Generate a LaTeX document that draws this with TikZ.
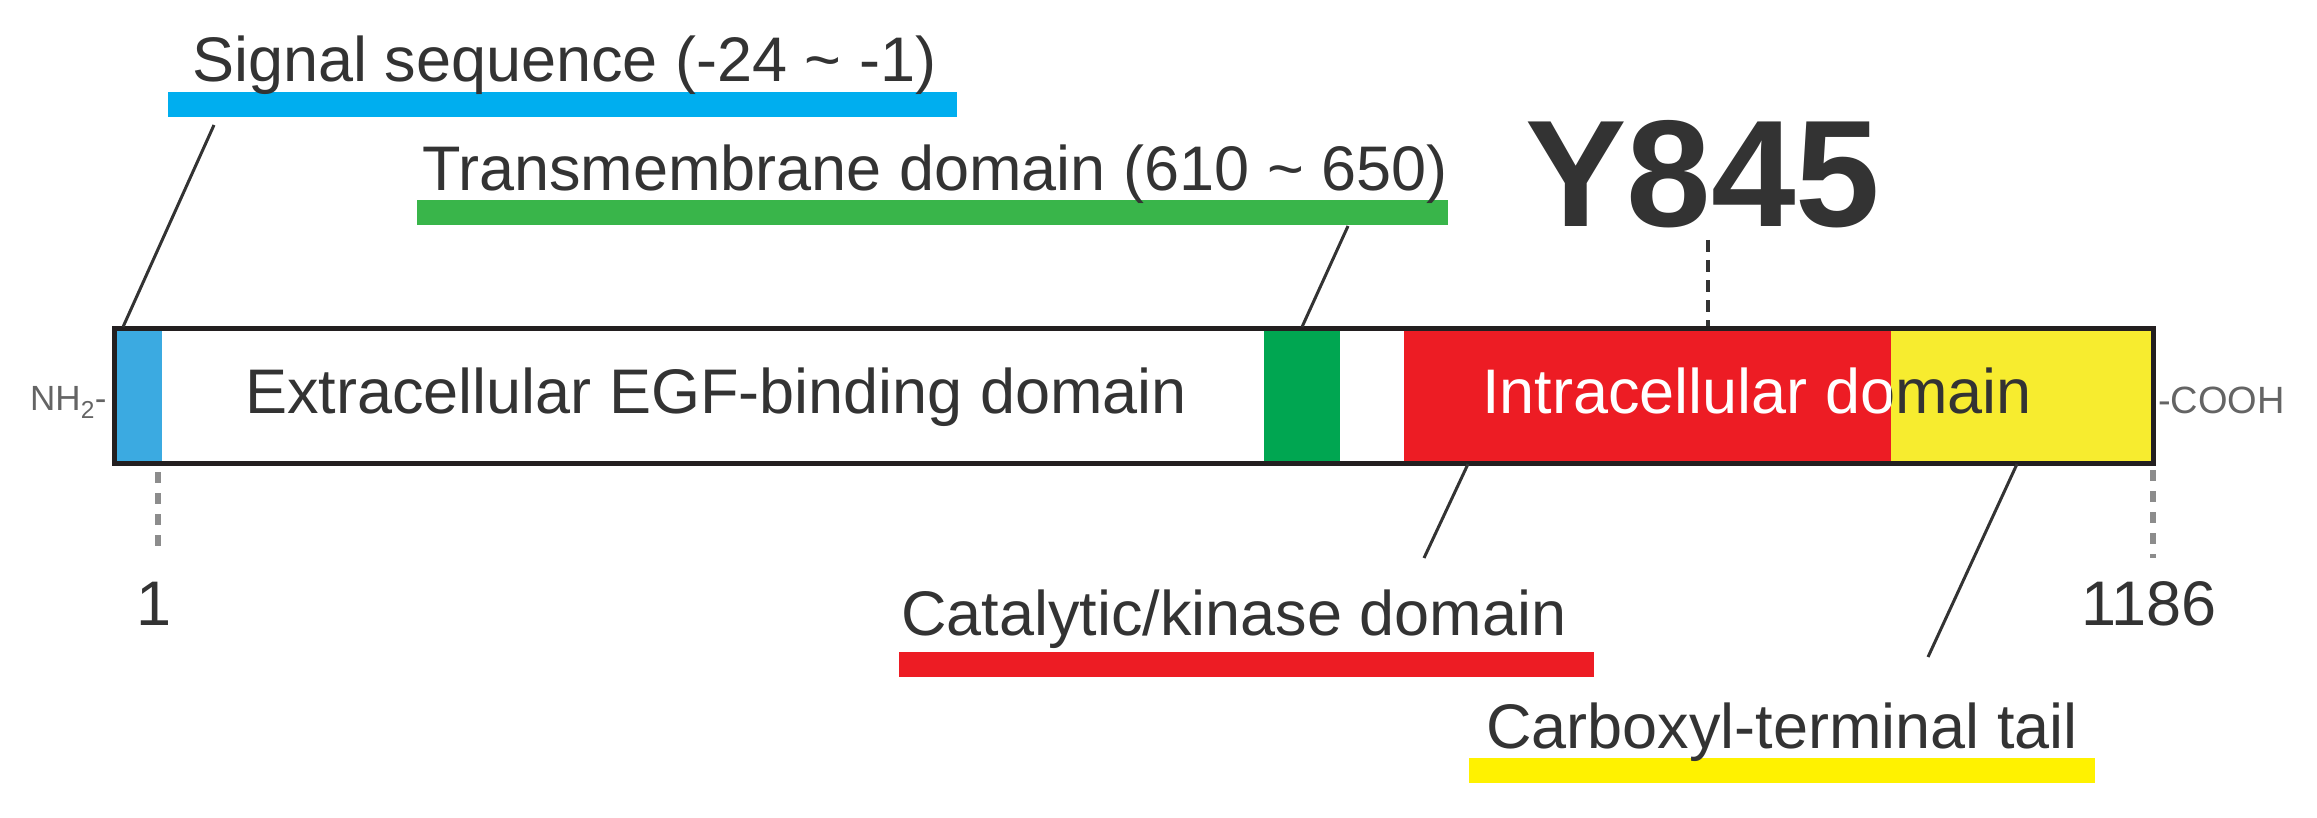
\documentclass[tikz,border=0pt]{standalone}
\usepackage{fontspec}
\setmainfont{Liberation Sans}
\definecolor{txt}{RGB}{51,51,51}
\definecolor{nhgray}{RGB}{100,100,100}
\definecolor{dotgray}{RGB}{140,140,140}
\definecolor{boxline}{RGB}{35,31,32}
\definecolor{sigblue}{RGB}{0,174,239}
\definecolor{segblue}{RGB}{59,170,225}
\definecolor{tmgreen}{RGB}{57,181,74}
\definecolor{seggreen}{RGB}{0,166,81}
\definecolor{kred}{RGB}{237,28,36}
\definecolor{tyellow}{RGB}{255,242,0}
\definecolor{segyellow}{RGB}{247,236,47}
\begin{document}
\begin{tikzpicture}[x=1pt,y=-1pt,
  lbl/.style={anchor=base west, inner sep=0pt, text=txt, font=\fontsize{63}{70}\selectfont},
  bar/.style={anchor=north west, inner sep=0pt, outer sep=0pt, minimum height=25pt, draw=none},
  seg/.style={anchor=north west, inner sep=0pt, outer sep=0pt, minimum height=135pt, draw=none},
  leader/.style={draw=txt, line width=3pt},
  ydash/.style={draw=txt, line width=4pt, dash pattern=on 12pt off 8pt},
  posdash/.style={draw=dotgray, line width=6pt, dash pattern=on 11pt off 10pt}
]
\useasboundingbox (0,0) rectangle (2317,818);

% protein bar segments
\node[seg, fill=white, minimum width=2039pt] (protein) at (114,328) {};
\node[seg, fill=segblue, minimum width=48pt] (sigseg) at (114,328) {};
\node[seg, fill=seggreen, minimum width=76pt] (tmseg) at (1264,328) {};
\node[seg, fill=kred, minimum width=487pt] (kinseg) at (1404,328) {};
\node[seg, fill=segyellow, minimum width=262pt] (tailseg) at (1891,328) {};

% text inside bar
\node[lbl] (extra) at (245,413) {Extracellular EGF-binding domain};
\begin{scope}
  \clip (1404,328) rectangle (1891,463);
  \node[lbl, text=white] (intraA) at (1482,413) {Intracellular domain};
\end{scope}
\begin{scope}
  \clip (1891,328) rectangle (2153,463);
  \node[lbl] (intraB) at (1482,413) {Intracellular domain};
\end{scope}

% border
\draw[boxline, line width=5pt] (protein.north west) rectangle (protein.south east);

% termini
\node[anchor=base west, inner sep=0pt, text=nhgray, font=\fontsize{35}{40}\selectfont] (nh) at (30,410) {NH\textsubscript{2}-};
\node[anchor=base west, inner sep=0pt, text=nhgray, font=\fontsize{38}{42}\selectfont] (cooh) at (2158,413) {-COOH};

% label bars
\node[bar, fill=sigblue, minimum width=789pt] (sigbar) at (168,92) {};
\node[bar, fill=tmgreen, minimum width=1031pt] (tmbar) at (417,200) {};
\node[bar, fill=kred, minimum width=695pt] (kinbar) at (899,652) {};
\node[bar, fill=tyellow, minimum width=626pt] (tailbar) at (1469,758) {};

% labels
\node[lbl] (siglbl) at (192,82) {Signal sequence (-24 \textasciitilde\ -1)};
\node[lbl] (tmlbl) at (422,191) {Transmembrane domain (610 \textasciitilde\ 650)};
\node[lbl] (kinlbl) at (901,635) {Catalytic/kinase domain};
\node[lbl] (taillbl) at (1486,748) {Carboxyl-terminal tail};
\node[lbl] (pos1) at (136,625) {1};
\node[lbl] (pos1186) at (2081,625) {1186};
\node[anchor=base west, inner sep=0pt, text=txt, font=\fontsize{152}{160}\selectfont\bfseries] (y845) at (1525,227) {Y845};

% leader coordinates
\coordinate (sigA) at (214,125);
\coordinate (sigB) at (123,327);
\coordinate (tmA) at (1348,226);
\coordinate (tmB) at (1302,327);
\coordinate (kinA) at (1468,464);
\coordinate (kinB) at (1424,558);
\coordinate (tailA) at (2017,464);
\coordinate (tailB) at (1928,657);
\coordinate (yA) at (1708,240);
\coordinate (yB) at (1708,326);
\coordinate (oneA) at (158,472);
\coordinate (oneB) at (158,556);
\coordinate (endA) at (2153,470);
\coordinate (endB) at (2153,558);

\draw[leader] (sigA) -- (sigB);
\draw[leader] (tmA) -- (tmB);
\draw[leader] (kinA) -- (kinB);
\draw[leader] (tailA) -- (tailB);
\draw[ydash] (yA) -- (yB);
\draw[posdash] (oneA) -- (oneB);
\draw[posdash] (endA) -- (endB);
\end{tikzpicture}
\end{document}
